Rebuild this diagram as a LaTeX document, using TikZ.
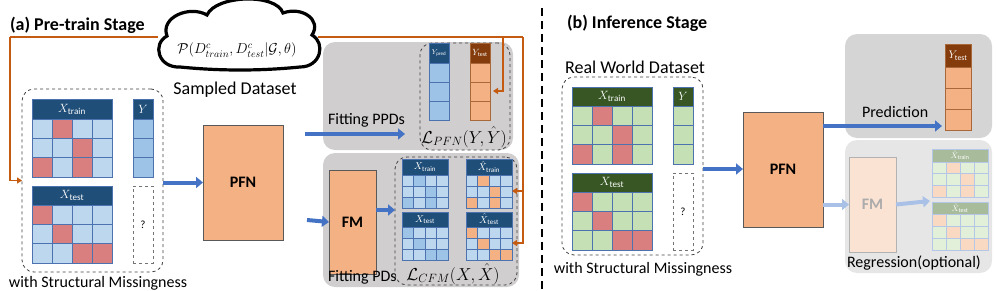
\documentclass[tikz,border=0pt]{standalone}
\usepackage{fontspec}
\setmainfont{Carlito}
\usetikzlibrary{arrows.meta}
\definecolor{hdrblue}{HTML}{1F4E79}
\definecolor{cellblue}{HTML}{BDD7EE}
\definecolor{cellblueb}{HTML}{9DC3E6}
\definecolor{redc}{HTML}{DA7F7F}
\definecolor{bordb}{HTML}{4C72B0}
\definecolor{hdrgreen}{HTML}{375623}
\definecolor{cellgreen}{HTML}{C5E0B4}
\definecolor{orc}{HTML}{F4B183}
\definecolor{brownc}{HTML}{843C0C}
\definecolor{bordo}{HTML}{A9683A}
\definecolor{panelg}{HTML}{D0CECE}
\definecolor{panelgb}{HTML}{D6D5D5}
\definecolor{panelgl}{HTML}{E7E6E6}
\definecolor{oline}{HTML}{C55A11}
\definecolor{arrb}{HTML}{4472C4}
\definecolor{arrbl}{HTML}{A9C1E6}
\definecolor{fadehdr}{HTML}{A8BC9C}
\definecolor{fadegreen}{HTML}{E2F0D9}
\definecolor{fadeor}{HTML}{FAD9C3}
\definecolor{fadebord}{HTML}{B4C7E7}
\definecolor{fadefm}{HTML}{FBE3D3}
\definecolor{fadetxt}{HTML}{ABABAB}

\newcommand{\mgrid}[8]{%
  \foreach \ii in {1,...,#5}{\foreach \jj in {1,...,#6}{%
   \filldraw[draw=#8,fill=#7,line width=0.9pt] ({#1+(\ii-1)*#3},{#2+(\jj-1)*#4}) rectangle ++(#3,#4);}}}
\newcommand{\mcells}[7]{%
  \foreach \ii/\jj in {#5}{%
   \filldraw[draw=#7,fill=#6,line width=0.9pt] ({#1+(\ii-1)*#3},{#2+(\jj-1)*#4}) rectangle ++(#3,#4);}}

\tikzset{
  base/.style={inner sep=0pt, outer sep=0pt},
  hdr/.style={base, anchor=north west, fill=#1, draw=bordb, line width=0.9pt, text=white},
  boxnw/.style={base, anchor=north west},
  panel/.style={boxnw, fill=#1, rounded corners=12pt},
  dbox/.style={boxnw, draw=black!75, dashed, line width=0.8pt, rounded corners=12pt},
  qbox/.style={boxnw, draw=black!55, dashed, line width=0.9pt},
  bigbox/.style={boxnw, fill=orc, draw=black!65, line width=1pt, font=\bfseries\fontsize{16}{18}\selectfont},
  barrow/.style={draw=arrb, line width=4pt, -{Triangle[length=7pt,width=11pt]}},
  larrow/.style={draw=arrbl, line width=4pt, -{Triangle[length=7pt,width=11pt]}},
  oarrow/.style={draw=oline, line width=1.8pt, -{Triangle[length=5pt,width=6pt]}},
  oseg/.style={draw=oline, line width=1.8pt},
  lbl/.style={base, font=\fontsize{16}{18}\selectfont},
  biglbl/.style={base, font=\fontsize{18}{20}\selectfont},
  ttl/.style={base, anchor=base west, font=\bfseries\fontsize{18}{20}\selectfont},
  mathl/.style={base, font=\fontsize{17}{19}\selectfont},
}

\begin{document}
\begin{tikzpicture}[x=1pt,y=-1pt]
\useasboundingbox (0,0) rectangle (997,290);

% ---------------- (a) ----------------
\node[ttl] (ta) at (10,30) {(a) Pre-train Stage};

% cloud
\draw[line width=3.2pt, fill=white] (180,67)
 .. controls (158,68) and (152,44) .. (167,36)
 .. controls (160,17) and (190,5) .. (207,15)
 .. controls (216,-5) and (276,-7) .. (283,13)
 .. controls (302,6) and (322,20) .. (312,35)
 .. controls (326,43) and (321,67) .. (300,67)
 .. controls (260,71) and (220,71) .. (180,67) -- cycle;
\node[base, font=\fontsize{14}{16}\selectfont] (cloudtxt) at (237,50) {$\mathcal{P}(D^{c}_{train},D^{c}_{test}|\mathcal{G},\theta)$};
\node[biglbl, anchor=base] (sampled) at (235,94) {Sampled Dataset};
\coordinate (cl) at (158,37);
\coordinate (cr) at (318,37);

% left dataset
\node[dbox, minimum width=141pt, minimum height=183pt] (lbox) at (22,89) {};
\node[hdr=hdrblue, minimum width=80pt, minimum height=20pt, font=\fontsize{13}{15}\selectfont] (xtra) at (32,99) {$X_{\mathrm{train}}$};
\mgrid{32}{119}{20}{19.33}{4}{3}{cellblue}{bordb}
\mcells{32}{119}{20}{19.33}{2/1,3/2,1/3,3/3}{redc}{bordb}
\node[hdr=hdrblue, minimum width=20pt, minimum height=20pt, font=\fontsize{12}{14}\selectfont] (ya) at (133,99) {$Y$};
\mgrid{133}{119}{20}{19.33}{1}{3}{cellblueb}{bordb}
\node[hdr=hdrblue, minimum width=80pt, minimum height=19pt, font=\fontsize{13}{15}\selectfont] (xtea) at (32,186) {$X_{\mathrm{test}}$};
\mgrid{32}{205}{20}{19.33}{4}{3}{cellblue}{bordb}
\mcells{32}{205}{20}{19.33}{1/1,2/2,3/3,4/3}{redc}{bordb}
\node[qbox, minimum width=20pt, minimum height=77pt, font=\fontsize{11}{13}\selectfont] (qa) at (133,186) {?};
\node[lbl, anchor=base] (wsma) at (98,287) {with Structural Missingness};

% PFN (a)
\node[bigbox, minimum width=80pt, minimum height=115pt] (pfna) at (203,125) {PFN};
\draw[barrow] (lbox.east |- pfna.west) -- (pfna.west);

% top panel (a)
\node[panel=panelg, minimum width=190pt, minimum height=108pt] (ptop) at (323,42) {};
\node[dbox, minimum width=90pt, minimum height=107pt] (dtop) at (420,43) {};
\node[hdr=hdrblue, minimum width=20pt, minimum height=20pt, font=\fontsize{7}{8}\selectfont] (ypred) at (429,43) {$Y_{\mathrm{pred}}$};
\mgrid{429}{63}{20}{19}{1}{3}{cellblueb}{bordb}
\node[hdr=brownc, draw=bordo, minimum width=20pt, minimum height=20pt, font=\fontsize{9}{10}\selectfont] (ytesta) at (470,43) {$Y_{\mathrm{test}}$};
\mgrid{470}{63}{20}{19}{1}{3}{orc}{bordo}
\node[mathl] (lpfn) at (464,137) {$\mathcal{L}_{PFN}(Y,\hat{Y})$};
\node[lbl, anchor=base west] (fppd) at (328,124) {Fitting PPDs};
\coordinate (ppdstart) at (305,134);
\coordinate (ppdend) at (405,134);
\draw[barrow] (ppdstart) -- (ppdend);

% bottom panel (a)
\node[panel=panelg, minimum width=196pt, minimum height=134pt] (pbot) at (323,153) {};
\node[dbox, minimum width=122pt, minimum height=128pt] (dbot) at (395,157) {};
\node[bigbox, minimum width=47pt, minimum height=104pt] (fma) at (329,170) {FM};
\coordinate (fmin) at (307,220);
\draw[barrow] (fmin) -- (fma.west);
\draw[barrow] (fma.east |- 0,210) -- (dbot.west |- 0,210);
% small matrices
\node[hdr=hdrblue, minimum width=46pt, minimum height=16pt, font=\fontsize{10}{12}\selectfont] (sxtr) at (402,159) {$X_{\mathrm{train}}$};
\mgrid{402}{175}{11.5}{11}{4}{3}{cellblue}{bordb}
\mcells{402}{175}{11.5}{11}{2/1,3/2,1/3,3/3}{cellblueb}{bordb}
\node[hdr=hdrblue, minimum width=46pt, minimum height=16pt, font=\fontsize{10}{12}\selectfont] (sxhtr) at (466,159) {$\hat{X}_{\mathrm{train}}$};
\mgrid{466}{175}{11.5}{11}{4}{3}{cellblue}{bordb}
\mcells{466}{175}{11.5}{11}{2/1,3/2,1/3,3/3}{orc}{bordb}
\node[hdr=hdrblue, minimum width=46pt, minimum height=15pt, font=\fontsize{10}{12}\selectfont] (sxte) at (402,212) {$X_{\mathrm{test}}$};
\mgrid{402}{227}{11.5}{11}{4}{3}{cellblue}{bordb}
\mcells{402}{227}{11.5}{11}{1/1,2/2,3/3,4/3}{cellblueb}{bordb}
\node[hdr=hdrblue, minimum width=46pt, minimum height=15pt, font=\fontsize{10}{12}\selectfont] (sxhte) at (466,212) {$\hat{X}_{\mathrm{test}}$};
\mgrid{466}{227}{11.5}{11}{4}{3}{cellblue}{bordb}
\mcells{466}{227}{11.5}{11}{1/1,2/2,3/3,4/3}{orc}{bordb}
\node[mathl] (lcfm) at (453,274) {$\mathcal{L}_{CFM}(X,\hat{X})$};
\node[lbl, anchor=base west] (fpd) at (328,281) {Fitting PDs};

% orange connectors
\coordinate (ocorner) at (10,37);
\draw[oseg] (cl) -- (ocorner);
\draw[oarrow] (ocorner) |- (lbox.west);
\coordinate (orc1) at (523,37);
\coordinate (orc2) at (503,37);
\draw[oseg] (cr) -- (orc1);
\draw[oarrow] (orc2) |- ([xshift=3pt]ytesta.east |- 0,91);
\draw[oarrow] (orc1) |- (sxhtr.east |- 0,191);
\draw[oarrow] (orc1) |- (sxhte.east |- 0,243);

% separator
\draw[line width=2.5pt, dash pattern=on 8pt off 5pt] (542,8) -- (542,290);

% ---------------- (b) ----------------
\node[ttl] (tb) at (567,28) {(b) Inference Stage};
\node[biglbl, anchor=base] (rwd) at (635,73) {Real World Dataset};
\node[dbox, minimum width=141pt, minimum height=178pt] (rbox) at (562,77) {};
\node[hdr=hdrgreen, minimum width=80pt, minimum height=19pt, font=\fontsize{13}{15}\selectfont] (xtrb) at (572,87) {$X_{\mathrm{train}}$};
\mgrid{572}{106}{20}{19.33}{4}{3}{cellgreen}{bordb}
\mcells{572}{106}{20}{19.33}{2/1,3/2,1/3,3/3}{redc}{bordb}
\node[hdr=hdrgreen, minimum width=20pt, minimum height=19pt, font=\fontsize{12}{14}\selectfont] (yb) at (673,87) {$Y$};
\mgrid{673}{106}{20}{19.33}{1}{3}{cellgreen}{bordb}
\node[hdr=hdrgreen, minimum width=80pt, minimum height=19pt, font=\fontsize{13}{15}\selectfont] (xteb) at (572,173) {$X_{\mathrm{test}}$};
\mgrid{572}{192}{20}{19.33}{4}{3}{cellgreen}{bordb}
\mcells{572}{192}{20}{19.33}{1/1,2/2,3/3,4/3}{redc}{bordb}
\node[qbox, minimum width=20pt, minimum height=77pt, font=\fontsize{11}{13}\selectfont] (qb) at (673,173) {?};
\node[lbl, anchor=base] (wsmb) at (643,273) {with Structural Missingness};

\node[bigbox, minimum width=80pt, minimum height=115pt] (pfnb) at (743,112) {PFN};
\draw[barrow] (rbox.east |- 0,169) -- (pfnb.west |- 0,169);

% top panel (b)
\node[panel=panelgb, minimum width=147pt, minimum height=104pt] (ptopb) at (845,34) {};
\node[hdr=brownc, draw=bordo, minimum width=26pt, minimum height=23pt, font=\fontsize{11}{12}\selectfont] (ytestb) at (945,44) {$Y_{\mathrm{test}}$};
\mgrid{945}{67}{26}{21}{1}{3}{orc}{bordo}
\node[lbl, anchor=base west] (pred) at (862,117) {Prediction};
\draw[barrow] (pfnb.east |- 0,126) -- ([xshift=-3pt]ytestb.west |- 0,126);

% bottom panel (b)
\node[panel=panelgl, minimum width=147pt, minimum height=133pt] (pbotb) at (845,140) {};
\node[boxnw, fill=fadefm, draw=black!30, line width=1pt, minimum width=47pt, minimum height=95pt, text=fadetxt, font=\bfseries\fontsize{16}{18}\selectfont] (fmb) at (849,157) {FM};
\draw[larrow] (pfnb.east |- fmb.west) -- (fmb.west);
\coordinate (fmbout) at (930,201);
\draw[larrow] (fmb.east) -- (fmbout);
\node[hdr=fadehdr, draw=fadebord, minimum width=56pt, minimum height=13pt, font=\fontsize{8}{9}\selectfont] (fxtr) at (932,149) {$\hat{X}_{\mathrm{train}}$};
\mgrid{932}{162}{14}{11.67}{4}{3}{fadegreen}{fadebord}
\mcells{932}{162}{14}{11.67}{2/1,3/2,1/3,3/3}{fadeor}{fadebord}
\node[hdr=fadehdr, draw=fadebord, minimum width=56pt, minimum height=12pt, font=\fontsize{8}{9}\selectfont] (fxte) at (932,202) {$\hat{X}_{\mathrm{test}}$};
\mgrid{932}{214}{14}{12}{4}{3}{fadegreen}{fadebord}
\mcells{932}{214}{14}{12}{1/1,2/2,3/3,4/3}{fadeor}{fadebord}
\node[lbl, anchor=base west] (regr) at (847,267) {Regression(optional)};
\end{tikzpicture}
\end{document}
